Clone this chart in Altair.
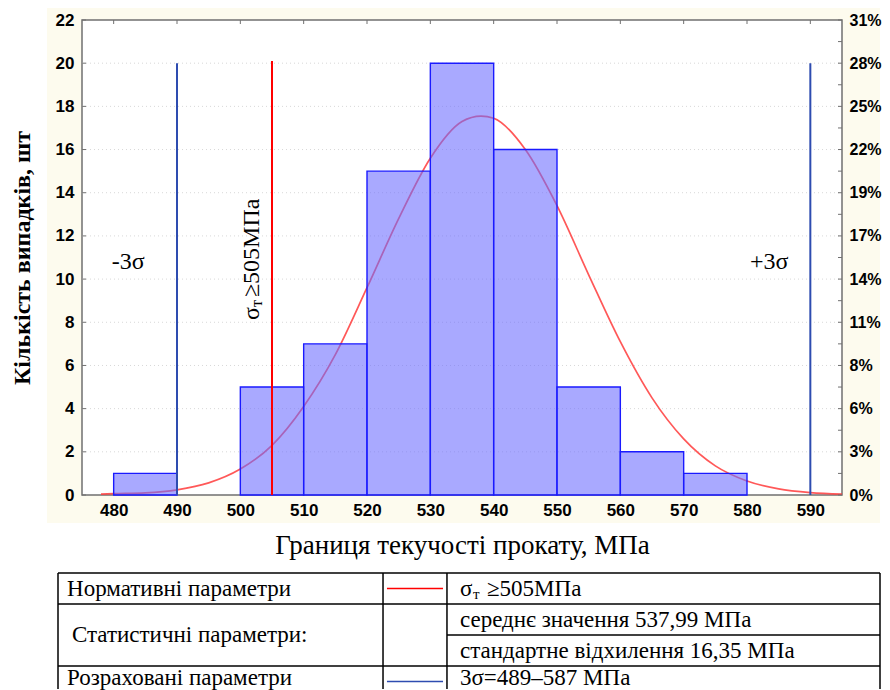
import altair as alt
import pandas as pd

# ---------------- data ----------------
bin_start = [480, 490, 500, 510, 520, 530, 540, 550, 560, 570]
bin_count = [1, 0, 5, 7, 15, 20, 16, 5, 2, 1]
bin_width = 10

curve_x = [478, 480, 485, 490, 495, 500, 505, 510, 515, 520, 525, 530, 535, 538,
           540, 545, 550, 555, 560, 565, 570, 575, 580, 585, 590, 595]
curve_y = [0.04, 0.06, 0.10, 0.24, 0.56, 1.2, 2.3, 4.1, 6.5, 9.6, 12.8, 15.6, 17.3, 17.55,
           17.45, 16.0, 13.4, 10.2, 7.1, 4.5, 2.6, 1.35, 0.65, 0.28, 0.11, 0.04]

x_ticks = [480, 490, 500, 510, 520, 530, 540, 550, 560, 570, 580, 590]
y_ticks = [0, 2, 4, 6, 8, 10, 12, 14, 16, 18, 20, 22]
y_minor = list(range(0, 23))

limit_value = [490, 590, 505]
limit_color = ["#2e4cb0", "#2e4cb0", "#ff0000"]
limit_top = [20, 20, 20.1]

sigma_text = ["-3σ", "+3σ"]
sigma_x = [482.3, 583.5]
sigma_y = [10.8, 10.8]

norm_label = ["σ", "т", "≥505МПа"]
norm_label_dx = [0, 13, 23]
norm_label_dy = [0, 5, 0]
norm_label_size = [24, 16, 24]
norm_label_x = 501.9
norm_label_y = 8.1

table_left_text = ["Нормативні параметри", "Статистичні параметри:", "Розраховані параметри"]
table_left_row = [0.5, 2.0, 3.4]
table_left_x = [0.011, 0.017, 0.011]
table_right_text = ["середнє значення 537,99 МПа", "стандартне відхилення 16,35 МПа", "3σ=489–587 МПа"]
table_right_row = [1.5, 2.5, 3.4]
table_norm_text = ["σ", "т", "≥505МПа"]
table_norm_dx = [0, 13, 27]
table_norm_dy = [0, 5, 0]
table_norm_size = [23, 15, 23]
sample_color = ["#ff0000", "#2e4cb0"]
sample_row = [0.5, 3.5]

total = sum(bin_count)
W, H = 760, 475
col2, col3 = 0.3954, 0.4732
text_col = 0.489
sample_x0, sample_x1 = 0.4002, 0.4684

one = pd.DataFrame({"a": [0]})

x_scale = alt.Scale(domain=[475, 595], nice=False, zero=False)
y_scale = alt.Scale(domain=[0, 22], nice=False, zero=True)

x_axis = alt.Axis(values=x_ticks, title="Границя текучості прокату, МПа",
                  titleFont="Liberation Serif", titleFontSize=27, titleFontWeight="normal",
                  titleColor="black", titlePadding=14,
                  labelFont="Liberation Sans", labelFontSize=17, labelFontWeight="bold",
                  labelColor="black", labelPadding=7, ticks=False, tickSize=0,
                  domain=False, grid=False, zindex=1)
y_axis = alt.Axis(values=y_ticks, title="Кількість випадків, шт", orient="left",
                  titleFont="Liberation Serif", titleFontSize=24, titleFontWeight="bold",
                  titleColor="black", titlePadding=21,
                  labelFont="Liberation Sans", labelFontSize=17, labelFontWeight="bold",
                  labelColor="black", labelPadding=8, ticks=False, tickSize=0,
                  domain=False, grid=False, zindex=1)
right_axis = alt.Axis(values=y_ticks, title=None, orient="right",
                      labelExpr=f"format(datum.value / {total}, '.0%')",
                      labelFont="Liberation Sans", labelFontSize=16, labelFontWeight="bold",
                      labelColor="black", labelPadding=7, ticks=False, tickSize=0,
                      domain=False, grid=False, zindex=1)


def X(f):
    return alt.X(f, type="quantitative", scale=x_scale, axis=x_axis)


def Y(f):
    return alt.Y(f, type="quantitative", scale=y_scale, axis=y_axis)


frame_color = "#707070"

cream = alt.Chart(one).mark_rect(color="#fdfbee").encode(
    x=alt.value(-35), x2=alt.value(W + 38), y=alt.value(-12), y2=alt.value(H + 28))
white = alt.Chart(one).mark_rect(fill="white", stroke=frame_color, strokeWidth=1.5).encode(
    x=alt.value(0), x2=alt.value(W), y=alt.value(0), y2=alt.value(H))

grid = alt.Chart(pd.DataFrame({"v": y_ticks[1:-1]})).mark_rule(
    color="#d8d8d8", strokeDash=[1, 3], strokeWidth=1).encode(
    y=Y("v"), x=alt.value(0), x2=alt.value(W))

curve = alt.Chart(pd.DataFrame({"x": curve_x, "y": curve_y})).mark_line(
    color="#ff3b3b", strokeWidth=1.7, interpolate="monotone", opacity=0.85).encode(
    x=X("x"), y=Y("y"))

bars = alt.Chart(pd.DataFrame({"start": bin_start, "count": bin_count})).transform_filter(
    "datum.count > 0").transform_calculate(
    end=f"datum.start + {bin_width}", zero="0").mark_rect(
    fill="#6a6aff", fillOpacity=0.58, stroke="#1a1aff", strokeWidth=1.4).encode(
    x=X("start"), x2="end:Q", y=Y("count"), y2="zero:Q")

vlines = alt.Chart(pd.DataFrame({"v": limit_value, "c": limit_color, "top": limit_top,
                                 "bottom": [0] * len(limit_value)})).mark_rule(strokeWidth=2).encode(
    x=X("v"), y=Y("bottom"), y2="top:Q", color=alt.Color("c:N", scale=None))

sig = alt.Chart(pd.DataFrame({"t": sigma_text, "x": sigma_x, "y": sigma_y})).mark_text(
    font="Liberation Serif", fontSize=24, color="black", align="center", baseline="middle").encode(
    x=X("x"), y=Y("y"), text="t:N")

norm_layers = []
for t, dx, dy, fs in zip(norm_label, norm_label_dx, norm_label_dy, norm_label_size):
    norm_layers.append(
        alt.Chart(pd.DataFrame({"t": [t], "x": [norm_label_x], "y": [norm_label_y]})).mark_text(
            font="Liberation Serif", fontSize=fs, color="black", align="left",
            baseline="middle", angle=270, dx=dx, dy=dy).encode(
            x=X("x"), y=Y("y"), text="t:N"))

left_ticks = alt.Chart(pd.DataFrame({"v": y_ticks})).mark_rule(color=frame_color).encode(
    y=Y("v"), x=alt.value(0), x2=alt.value(4))
top_ticks = alt.Chart(pd.DataFrame({"v": x_ticks})).mark_rule(color=frame_color).encode(
    x=X("v"), y=alt.value(0), y2=alt.value(4))

inner = alt.layer(cream, white, grid, curve, bars, vlines, sig, *norm_layers,
                  left_ticks, top_ticks)

right = alt.Chart(pd.DataFrame({"v": y_minor})).mark_rule(color=frame_color).encode(
    y=alt.Y("v:Q", scale=y_scale, axis=right_axis), x=alt.value(W - 4), x2=alt.value(W))

main = alt.layer(inner, right).resolve_scale(y="independent").properties(width=W, height=H)

# ---------------- table ----------------
tx = alt.Scale(domain=[0, 1], range=[-24, 798])
ty = alt.Scale(domain=[0, 4], range=[0, 124])
TX = lambda f: alt.X(f, type="quantitative", scale=tx, axis=None)
TY = lambda f: alt.Y(f, type="quantitative", scale=ty, axis=None)

h_lines = pd.DataFrame({"x0": [0, 0, col3, 0], "x1": [1, 1, 1, 1], "y0": [0, 1, 2, 3], "y1": [0, 1, 2, 3]})
v_lines = pd.DataFrame({"x0": [0, col2, col3, 1], "x1": [0, col2, col3, 1],
                        "y0": [0, 0, 0, 0], "y1": [3.74, 3.74, 3.74, 3.74]})
borders = alt.Chart(pd.concat([h_lines, v_lines])).mark_rule(color="black", strokeWidth=1.5).encode(
    x=TX("x0"), x2="x1:Q", y=TY("y0"), y2="y1:Q")

samples = alt.Chart(pd.DataFrame({"c": sample_color, "r": sample_row,
                                  "x0": [sample_x0] * 2, "x1": [sample_x1] * 2})).mark_rule(
    strokeWidth=1.5).encode(x=TX("x0"), x2="x1:Q", y=TY("r"), color=alt.Color("c:N", scale=None))

ttext = dict(font="Liberation Serif", fontSize=23, color="black", align="left", baseline="middle")
left_txt = alt.Chart(pd.DataFrame({"t": table_left_text, "r": table_left_row, "x": table_left_x})).mark_text(
    **ttext).encode(x=TX("x"), y=TY("r"), text="t:N")
right_txt = alt.Chart(pd.DataFrame({"t": table_right_text, "r": table_right_row,
                                    "x": [text_col] * 3})).mark_text(**ttext).encode(
    x=TX("x"), y=TY("r"), text="t:N")
tnorm = []
for t, dx, dy, fs in zip(table_norm_text, table_norm_dx, table_norm_dy, table_norm_size):
    tnorm.append(alt.Chart(pd.DataFrame({"t": [t], "r": [0.5], "x": [text_col]})).mark_text(
        font="Liberation Serif", fontSize=fs, color="black", align="left", baseline="middle",
        dx=dx, dy=dy).encode(x=TX("x"), y=TY("r"), text="t:N"))

table = alt.layer(borders, samples, left_txt, right_txt, *tnorm).properties(width=W, height=116)

chart = alt.vconcat(main, table, spacing=78, bounds="flush").properties(
    padding={"left": 2, "top": 0, "right": 0, "bottom": 0}, background="white"
).configure_view(strokeWidth=0)

chart.save("out.html", embed_options={"renderer": "svg", "actions": False})
